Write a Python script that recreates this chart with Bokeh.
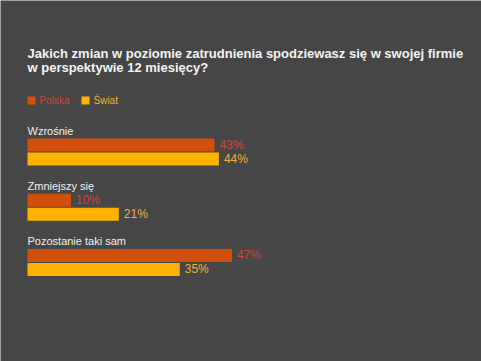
from bokeh.plotting import figure
from bokeh.models import Range1d, Label, BoxAnnotation, ColumnDataSource
from bokeh.core.properties import value
from bokeh.embed import file_html
from bokeh.resources import INLINE

title_lines = ["Jakich zmian w poziomie zatrudnienia spodziewasz się w swojej firmie",
               "w perspektywie 12 miesięcy?"]
categories = ["Wzrośnie", "Zmniejszy się", "Pozostanie taki sam"]
series_names = ["Polska", "Świat"]
polska = [43, 10, 47]
swiat = [44, 21, 35]

BG = "#464646"
C_POL = "#d2500c"
C_SWI = "#ffb300"
C_POL_TXT = "#c9463c"
C_SWI_TXT = "#f0b03a"
FONT = "Liberation Sans"

W, H = 481, 361
PX_PER = 4.35
X0 = 27  # screen x of the value zero

p = figure(width=W, height=H, output_backend="svg", toolbar_location=None,
           x_range=Range1d(-X0 / PX_PER, (W - X0) / PX_PER),
           y_range=Range1d(H, 0), min_border=0)
p.axis.visible = False
p.grid.visible = False
p.outline_line_color = None
p.background_fill_color = BG
p.border_fill_color = BG

# layout (pixel rows from top)
first, period, gap = 144.5, 55.2, 14.0
yp = [first + i * period for i in range(len(categories))]
ys = [y + gap for y in yp]
yl = [y - gap for y in yp]

src = ColumnDataSource(dict(cat=categories, pol=polska, swi=swiat, yp=yp, ys=ys, yl=yl,
                            pol_t=[f"{v}%" for v in polska], swi_t=[f"{v}%" for v in swiat]))

p.hbar(y="yp", left=0, right="pol", height=13, source=src, fill_color=C_POL, line_color=None)
p.hbar(y="ys", left=0, right="swi", height=13, source=src, fill_color=C_SWI, line_color=None)

p.text(x="pol", y="yp", text="pol_t", source=src, x_offset=5, text_baseline="middle",
       text_font=value(FONT), text_font_size="12px", text_color=C_POL_TXT)
p.text(x="swi", y="ys", text="swi_t", source=src, x_offset=5, text_baseline="middle",
       text_font=value(FONT), text_font_size="12px", text_color=C_SWI_TXT)
p.text(x=0, y="yl", text="cat", source=src, text_baseline="middle",
       text_font=value(FONT), text_font_size="11px", text_color="#f0f0f0")

# title
for i, line in enumerate(title_lines):
    p.add_layout(Label(x=X0, y=52.5 + i * 14.5, x_units="screen", y_units="data",
                       text=line, text_font=FONT, text_font_size="13px",
                       text_font_style="bold", text_color="#f4f4f4",
                       text_baseline="alphabetic"))

# legend
leg_y = 100
for (name, col, tcol, lx) in [(series_names[0], C_POL, C_POL_TXT, 27),
                              (series_names[1], C_SWI, C_SWI_TXT, 81)]:
    p.add_layout(BoxAnnotation(left=lx, right=lx + 8, top=leg_y - 4, bottom=leg_y + 4,
                               left_units="screen", right_units="screen",
                               fill_color=col, fill_alpha=1, line_color=None))
    p.add_layout(Label(x=lx + 12, y=leg_y, x_units="screen", y_units="data",
                       text=name, text_font=FONT, text_font_size="10px",
                       text_color=tcol, text_baseline="middle"))

open("out.html", "w").write(file_html(p, INLINE))
